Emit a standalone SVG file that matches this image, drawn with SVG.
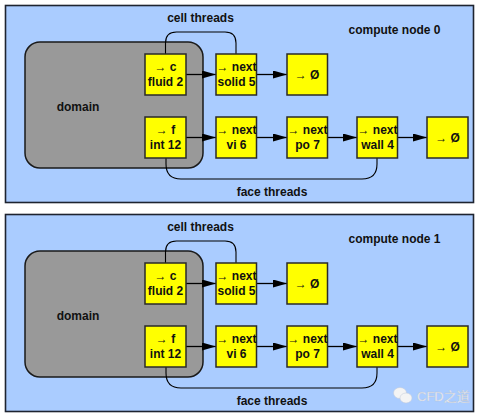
<svg xmlns="http://www.w3.org/2000/svg" width="480" height="418" viewBox="0 0 480 418">
<defs>
<style>
.panel{fill:#aaccff;stroke:#1e2430;stroke-width:1.6}
.domain{fill:#999999;stroke:#1a1a1a;stroke-width:1.5}
.box{fill:#ffff00;stroke:#2a2a2a;stroke-width:1.5}
.t{font-family:"Liberation Sans",Arial,sans-serif;font-weight:bold;font-size:12px;fill:#111;text-anchor:middle}
.arr{fill:none;stroke:#000;stroke-width:1.3;marker-end:url(#ah)}
.thr{fill:none;stroke:#000;stroke-width:1.1}
.wm{font-family:"Liberation Sans","Noto Sans CJK SC",sans-serif;font-size:13px;fill:#f2f2f2;stroke:#b8c4d8;stroke-width:0.3}
</style>
<marker id="ah" markerUnits="userSpaceOnUse" markerWidth="14" markerHeight="8" refX="14" refY="4" orient="auto">
<path d="M0,0 L14,4 L0,8 z" fill="#000"/>
</marker>
</defs>

<g id="node0">
<rect id="panel0" class="panel" x="5.5" y="5.5" width="468" height="197"/>
<g id="domain0"><rect class="domain" x="25" y="42" width="178" height="126" rx="15"/><text class="t" x="78" y="110.5">domain</text></g>
<text id="label-cell0" class="t" x="200.5" y="22">cell threads</text>
<text id="label-compute0" class="t" x="394.5" y="34">compute node 0</text>
<text id="label-face0" class="t" x="272" y="196">face threads</text>
<g id="connectors0">
<path class="thr" d="M165.5,54 V43 Q165.5,32 176.5,32 H225 Q236,32 236,43 V54"/>
<path class="thr" d="M166,158 V164 Q166,179 181,179 H362 Q377,179 377,164 V158"/>
<path class="arr" d="M186,74.5 H216"/>
<path class="arr" d="M256.5,74.5 H287"/>
<path class="arr" d="M186,137.5 H216"/>
<path class="arr" d="M256.5,137.5 H287"/>
<path class="arr" d="M327.5,137.5 H357"/>
<path class="arr" d="M397.5,137.5 H427"/>
</g>
<g id="c-fluid2-0"><rect class="box" x="145" y="54" width="41" height="41"/><text class="t" x="165.5" y="70.5">→ c</text><text class="t" x="165.5" y="85.5">fluid 2</text></g>
<g id="solid5-0"><rect class="box" x="216" y="54" width="40.5" height="41"/><text class="t" x="236.5" y="70.5">→ next</text><text class="t" x="236.5" y="85.5">solid 5</text></g>
<g id="null-top-0"><rect class="box" x="287" y="54" width="40.5" height="41"/><text class="t" x="307" y="78.5">→ Ø</text></g>
<g id="f-int12-0"><rect class="box" x="145" y="117" width="41" height="41"/><text class="t" x="165.5" y="134">→ f</text><text class="t" x="165.5" y="148.5">int 12</text></g>
<g id="vi6-0"><rect class="box" x="216" y="117" width="40.5" height="41"/><text class="t" x="236.5" y="134">→ next</text><text class="t" x="236.5" y="148.5">vi 6</text></g>
<g id="po7-0"><rect class="box" x="287" y="117" width="40.5" height="41"/><text class="t" x="307.5" y="134">→ next</text><text class="t" x="307.5" y="148.5">po 7</text></g>
<g id="wall4-0"><rect class="box" x="357" y="117" width="40.5" height="41"/><text class="t" x="377.5" y="134">→ next</text><text class="t" x="377.5" y="148.5">wall 4</text></g>
<g id="null-bot-0"><rect class="box" x="427" y="117" width="41" height="41"/><text class="t" x="447.5" y="141.5">→ Ø</text></g>
</g>

<g id="node1" transform="translate(0,209)">
<rect id="panel1" class="panel" x="5.5" y="5.5" width="468" height="197"/>
<g id="domain1"><rect class="domain" x="25" y="42" width="178" height="126" rx="15"/><text class="t" x="78" y="110.5">domain</text></g>
<text id="label-cell1" class="t" x="200.5" y="22">cell threads</text>
<text id="label-compute1" class="t" x="394.5" y="34">compute node 1</text>
<text id="label-face1" class="t" x="272" y="196">face threads</text>
<g id="connectors1">
<path class="thr" d="M165.5,54 V43 Q165.5,32 176.5,32 H225 Q236,32 236,43 V54"/>
<path class="thr" d="M166,158 V164 Q166,179 181,179 H362 Q377,179 377,164 V158"/>
<path class="arr" d="M186,74.5 H216"/>
<path class="arr" d="M256.5,74.5 H287"/>
<path class="arr" d="M186,137.5 H216"/>
<path class="arr" d="M256.5,137.5 H287"/>
<path class="arr" d="M327.5,137.5 H357"/>
<path class="arr" d="M397.5,137.5 H427"/>
</g>
<g id="c-fluid2-1"><rect class="box" x="145" y="54" width="41" height="41"/><text class="t" x="165.5" y="70.5">→ c</text><text class="t" x="165.5" y="85.5">fluid 2</text></g>
<g id="solid5-1"><rect class="box" x="216" y="54" width="40.5" height="41"/><text class="t" x="236.5" y="70.5">→ next</text><text class="t" x="236.5" y="85.5">solid 5</text></g>
<g id="null-top-1"><rect class="box" x="287" y="54" width="40.5" height="41"/><text class="t" x="307" y="78.5">→ Ø</text></g>
<g id="f-int12-1"><rect class="box" x="145" y="117" width="41" height="41"/><text class="t" x="165.5" y="134">→ f</text><text class="t" x="165.5" y="148.5">int 12</text></g>
<g id="vi6-1"><rect class="box" x="216" y="117" width="40.5" height="41"/><text class="t" x="236.5" y="134">→ next</text><text class="t" x="236.5" y="148.5">vi 6</text></g>
<g id="po7-1"><rect class="box" x="287" y="117" width="40.5" height="41"/><text class="t" x="307.5" y="134">→ next</text><text class="t" x="307.5" y="148.5">po 7</text></g>
<g id="wall4-1"><rect class="box" x="357" y="117" width="40.5" height="41"/><text class="t" x="377.5" y="134">→ next</text><text class="t" x="377.5" y="148.5">wall 4</text></g>
<g id="null-bot-1"><rect class="box" x="427" y="117" width="41" height="41"/><text class="t" x="447.5" y="141.5">→ Ø</text></g>
</g>

<g id="watermark">
<ellipse cx="400" cy="393" rx="6.5" ry="5.5" fill="#f4f4f4" stroke="#c0c8d8" stroke-width="0.5"/>
<ellipse cx="406" cy="398" rx="6" ry="5" fill="#f4f4f4" stroke="#c0c8d8" stroke-width="0.5"/>
<text class="wm" x="417" y="401">CFD之道</text>
</g>
</svg>
